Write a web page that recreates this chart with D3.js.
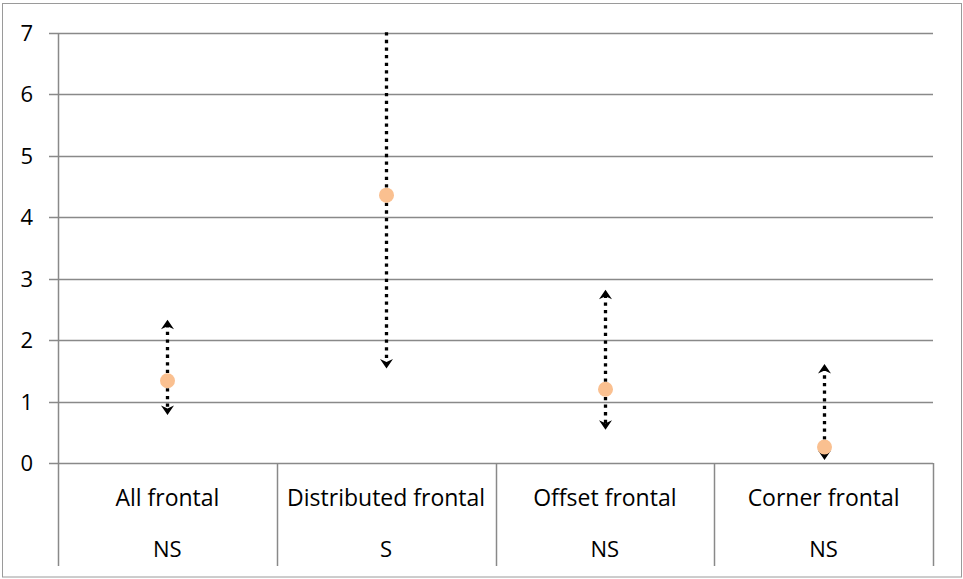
<!DOCTYPE html>
<html>
<head>
<meta charset="utf-8">
<script src="https://cdn.jsdelivr.net/npm/d3@7"></script>
<style>
  html, body { margin: 0; padding: 0; background: #fff; }
  svg { display: block; }
  text { font-family: "Open Sans", sans-serif; fill: #000; }
</style>
</head>
<body>
<script>
// Odds-ratio estimates with their confidence bounds, one per crash category
const categories = ["All frontal", "Distributed frontal", "Offset frontal", "Corner frontal"];
const significance = ["NS", "S", "NS", "NS"];
const estimates = [1.34, 4.36, 1.20, 0.26];
const lowerBounds = [0.78, 1.54, 0.54, 0.05];
const upperBounds = [2.33, 12.3, 2.82, 1.61];
const yTicks = [0, 1, 2, 3, 4, 5, 6, 7];

const W = 963, H = 579;
const plot = { left: 58, right: 933, top: 33, bottom: 463, axisBottom: 566 };

const svg = d3.select("body").append("svg")
  .attr("width", W).attr("height", H);

// outer chart frame
svg.append("rect")
  .attr("x", 2.5).attr("y", 3.5)
  .attr("width", 959).attr("height", 573.5)
  .attr("fill", "#fff").attr("stroke", "#9a9a9a").attr("stroke-width", 1);

const x = d3.scaleBand().domain(categories).range([plot.left, plot.right]).padding(0);
const y = d3.scaleLinear().domain([0, 7]).range([plot.bottom, plot.top]);

const gridColor = "#898989";

// horizontal gridlines, with the tick marks reaching out left of the axis
svg.append("g").selectAll("line").data(yTicks).join("line")
  .attr("x1", plot.left - 9).attr("x2", plot.right)
  .attr("y1", d => Math.round(y(d)) + 0.5).attr("y2", d => Math.round(y(d)) + 0.5)
  .attr("stroke", gridColor).attr("stroke-width", 1.5);

// value axis line running down through the label rows
svg.append("line")
  .attr("x1", plot.left + 0.5).attr("x2", plot.left + 0.5)
  .attr("y1", plot.top).attr("y2", plot.axisBottom)
  .attr("stroke", gridColor).attr("stroke-width", 1.5);

// category separators below the plot
const bounds = categories.map(c => x(c) + x.bandwidth());
svg.append("g").selectAll("line").data(bounds).join("line")
  .attr("x1", d => Math.round(d) + 0.5).attr("x2", d => Math.round(d) + 0.5)
  .attr("y1", plot.bottom).attr("y2", plot.axisBottom)
  .attr("stroke", gridColor).attr("stroke-width", 1.5);

// y tick labels
svg.append("g").selectAll("text").data(yTicks).join("text")
  .attr("x", 33).attr("y", d => y(d) + 8)
  .attr("text-anchor", "end")
  .attr("font-size", 22)
  .text(d => d);

// category labels and significance row
const cx = c => x(c) + x.bandwidth() / 2;
svg.append("g").selectAll("text").data(categories).join("text")
  .attr("x", d => cx(d)).attr("y", 506)
  .attr("text-anchor", "middle").attr("font-size", 23)
  .text(d => d);
svg.append("g").selectAll("text").data(categories).join("text")
  .attr("x", d => cx(d)).attr("y", 557)
  .attr("text-anchor", "middle").attr("font-size", 22)
  .text((d, i) => significance[i]);

// error bars: dotted stems with arrowheads at each bound, clipped to the plot
svg.append("defs").append("clipPath").attr("id", "plotClip")
  .append("rect")
  .attr("x", plot.left).attr("y", plot.top - 1)
  .attr("width", plot.right - plot.left).attr("height", plot.bottom - plot.top + 12);

const bars = svg.append("g").attr("clip-path", "url(#plotClip)");
const arrow = "M0,0 L6.5,9.5 L0,6.5 L-6.5,9.5 Z"; // tip at origin, pointing up

categories.forEach((c, i) => {
  const px = Math.round(cx(c)) + 0.5;
  [upperBounds[i], lowerBounds[i]].forEach((b, k) => {
    const yb = y(b), y0 = y(estimates[i]);
    const dir = k === 0 ? 1 : -1; // stem runs back toward the estimate
    bars.append("line")
      .attr("x1", px).attr("x2", px)
      .attr("y1", y0).attr("y2", yb + dir * 5)
      .attr("stroke", "#000").attr("stroke-width", 3.3)
      .attr("stroke-dasharray", "3.3,4.3");
    bars.append("path")
      .attr("d", arrow)
      .attr("transform", `translate(${px},${yb}) rotate(${k === 0 ? 0 : 180})`)
      .attr("fill", "#000");
  });
});

// point estimates
svg.append("g").selectAll("circle").data(categories).join("circle")
  .attr("cx", d => Math.round(cx(d)) + 0.5)
  .attr("cy", (d, i) => y(estimates[i]))
  .attr("r", 7.5)
  .attr("fill", "#FAC090");
</script>
</body>
</html>
